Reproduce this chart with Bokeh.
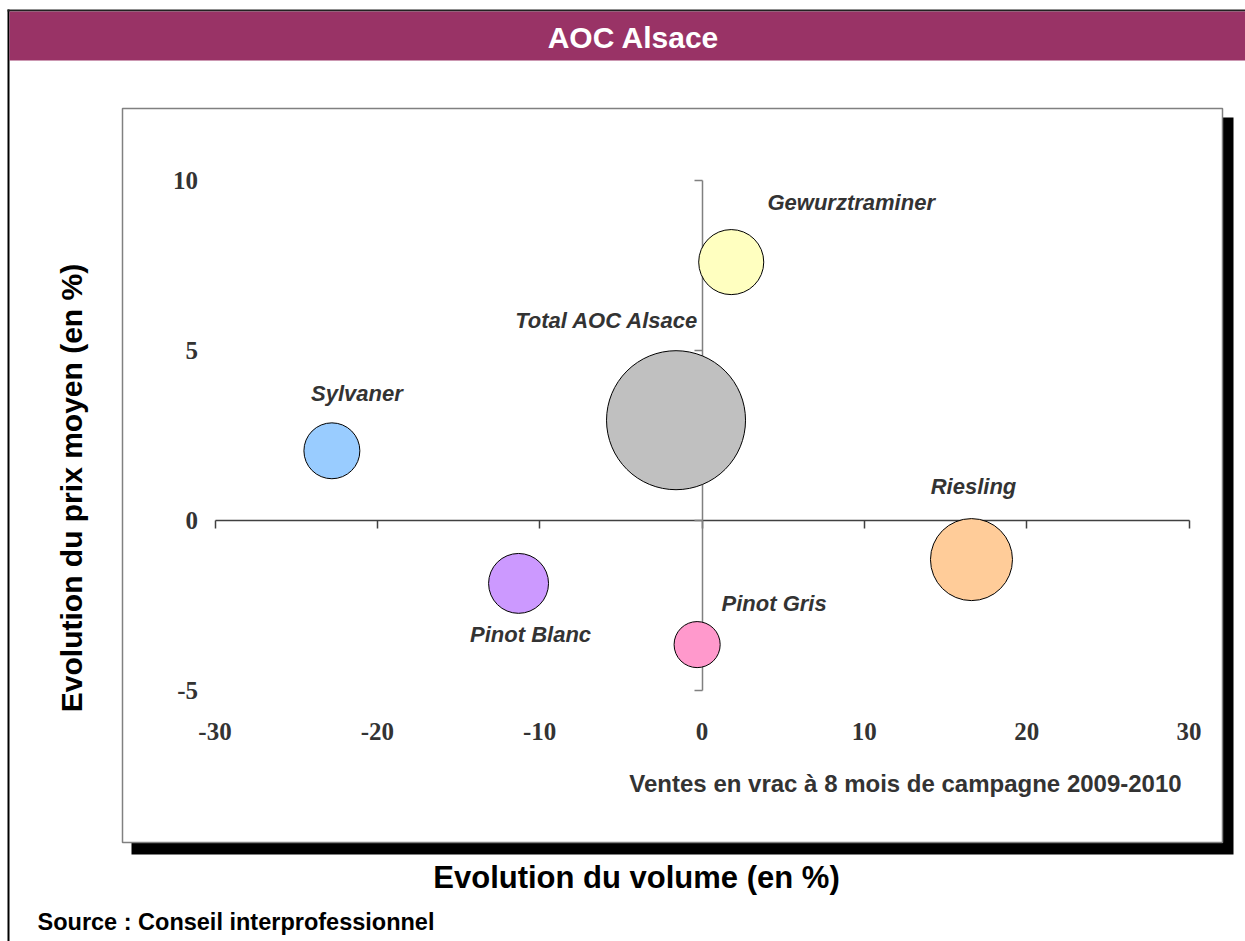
import numpy as np
from bokeh.plotting import figure
from bokeh.models import Range1d, LinearAxis, FixedTicker, ColumnDataSource
from bokeh.core.properties import value
from bokeh.embed import file_html
from bokeh.resources import INLINE

# ---------------- data ----------------
cepages = ["Gewurztraminer", "Total AOC Alsace", "Sylvaner", "Riesling", "Pinot Gris", "Pinot Blanc"]
evol_volume = [1.8, -1.6, -22.8, 16.6, -0.3, -11.3]      # x, %
evol_prix = [7.6, 2.95, 2.05, -1.15, -3.65, -1.85]       # y, %
bubble_size = [21.9, 100.0, 16.2, 34.8, 11.0, 18.6]      # relative volume
colors = ["#FFFFC0", "#C0C0C0", "#99CCFF", "#FFCC99", "#FF99CC", "#CC99FF"]
x_ticks = [-30, -20, -10, 0, 10, 20, 30]
y_ticks = [-5, 0, 5, 10]

# ---------------- layout ----------------
W, H = 1245, 941
X0_PX, X1_PX = 214.5, 1188.5       # pixel of x=-30 and x=30
Y_TOP_PX, Y_BOT_PX = 180.0, 690.0  # pixel of y=10 and y=-5
xs = (X1_PX - X0_PX) / 60.0
ys = (Y_BOT_PX - Y_TOP_PX) / 15.0
x_start = -30 - X0_PX / xs
x_end = 30 + (W - X1_PX) / xs
y_end = 10 + Y_TOP_PX / ys
y_start = -5 - (H - Y_BOT_PX) / ys
X_ZERO_PX = X0_PX + 30 * xs
Y_ZERO_PX = Y_TOP_PX + 10 * ys

MAX_R = 69.5
# label offsets in pixels (dx right, dy down) relative to bubble centre
label_offsets = {
    "Gewurztraminer": (120, -60),
    "Total AOC Alsace": (-69, -100),
    "Sylvaner": (25, -57),
    "Riesling": (2, -73),
    "Pinot Gris": (77, -41),
    "Pinot Blanc": (12, 51),
}

p = figure(width=W, height=H, output_backend="svg", toolbar_location=None,
           x_range=Range1d(x_start, x_end), y_range=Range1d(y_start, y_end),
           x_axis_type=None, y_axis_type=None, min_border=0,
           outline_line_color=None, background_fill_color="white",
           border_fill_color="white")
p.grid.visible = False
p.extra_x_ranges = {"px": Range1d(0, W)}
p.extra_y_ranges = {"py": Range1d(H, 0)}

def deco_quad(l, r, t, b, color, line_color=None, lw=1):
    rr = p.quad(left=[l], right=[r], top=[t], bottom=[b], fill_color=color,
                line_color=line_color, line_width=lw,
                x_range_name="px", y_range_name="py")
    rr.level = "image"
    return rr

# outer frame + title bar
deco_quad(7, 9, 9, H, "black")
deco_quad(7, W, 9, 11, "#222222")
deco_quad(9, W, 11, 60, "#993366")
# shadow and inner box
deco_quad(131, 1233, 117, 854, "black")
deco_quad(122, 1222, 108, 842, "white", line_color="#808080", lw=1.5)

TICK = 8
LABEL_FONT = "Liberation Serif"
# x axis on y=0, labels pushed down to the low position
xaxis = LinearAxis(fixed_location=0, bounds=(-30, 30), ticker=FixedTicker(ticks=x_ticks),
                   major_label_overrides={t: str(t) for t in x_ticks},
                   major_tick_in=0, major_tick_out=TICK,
                   major_label_standoff=int(722 - Y_ZERO_PX - TICK),
                   minor_tick_line_color=None, axis_line_color="#404040",
                   major_tick_line_color="#404040", axis_line_width=1.5, major_tick_line_width=1.5,
                   major_label_text_font=LABEL_FONT, major_label_text_font_style="bold",
                   major_label_text_font_size="25px", major_label_text_color="#333333")
xaxis.level = "underlay"
# y axis on x=0, labels pushed left to the low position
yaxis = LinearAxis(fixed_location=0, bounds=(-5, 10), ticker=FixedTicker(ticks=y_ticks),
                   major_label_overrides={t: str(t) for t in y_ticks},
                   major_tick_in=0, major_tick_out=TICK,
                   major_label_standoff=int(X_ZERO_PX - 197 - TICK),
                   minor_tick_line_color=None, axis_line_color="#808080",
                   major_tick_line_color="#808080", axis_line_width=1.5, major_tick_line_width=1.5,
                   major_label_text_font=LABEL_FONT, major_label_text_font_style="bold",
                   major_label_text_font_size="25px", major_label_text_color="#333333")
yaxis.level = "underlay"
p.add_layout(xaxis, "below")
p.add_layout(yaxis, "left")

# bubbles
sizes = 2 * MAX_R * np.sqrt(np.array(bubble_size) / max(bubble_size))
src = ColumnDataSource(dict(x=evol_volume, y=evol_prix, size=sizes, color=colors, name=cepages,
                            dx=[label_offsets[c][0] for c in cepages],
                            dy=[label_offsets[c][1] for c in cepages]))
p.scatter("x", "y", size="size", fill_color="color", line_color="black", line_width=1, source=src)
p.text("x", "y", text="name", x_offset="dx", y_offset="dy", source=src,
       text_font=value("Liberation Sans"), text_font_style="bold italic", text_font_size="22px",
       text_color="#333333", text_align="center", text_baseline="middle")

def deco_text(x, y, t, size, color="black", align="center", angle=0.0, style="bold"):
    p.text(x=[x], y=[y], text=[t], x_range_name="px", y_range_name="py",
           text_font=value("Liberation Sans"), text_font_style=style, text_font_size=size,
           text_color=color, text_align=align, text_baseline="middle", angle=angle)

deco_text(633, 37, "AOC Alsace", "30px", color="white")
deco_text(71, 487.5, "Evolution du prix moyen (en %)", "30px", angle=np.pi / 2)
deco_text(636, 877, "Evolution du volume (en %)", "31px")
deco_text(905, 783, "Ventes en vrac à 8 mois de campagne 2009-2010", "24px", color="#333333")
deco_text(37, 921, "Source : Conseil interprofessionnel", "23.5px", align="left")

open("out.html", "w").write(file_html(p, INLINE))
